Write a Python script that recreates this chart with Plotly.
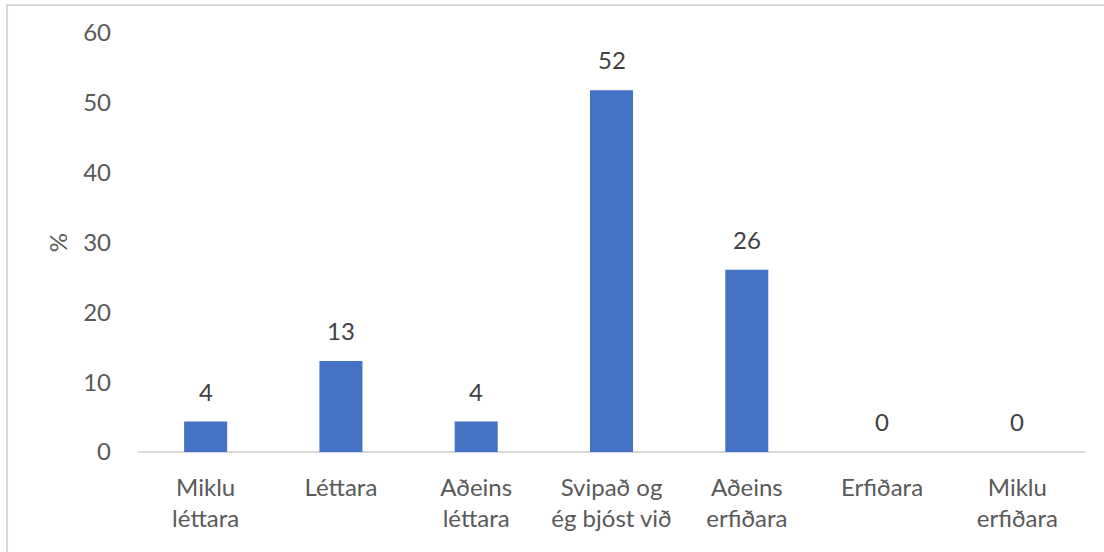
import plotly.graph_objects as go

categories = ["Miklu<br>léttara", "Léttara", "Aðeins<br>léttara", "Svipað og<br>ég bjóst við",
              "Aðeins<br>erfiðara", "Erfiðara", "Miklu<br>erfiðara"]
values = [4.35, 13.04, 4.35, 51.8, 26.09, 0, 0]
labels = ["4", "13", "4", "52", "26", "0", "0"]
y_ticks = [0, 10, 20, 30, 40, 50, 60]

FONT = "Lato"

fig = go.Figure()
fig.add_trace(go.Bar(x=categories, y=values, marker=dict(color="#4472C4", line=dict(width=0)),
                     hoverinfo="skip"))

for c, v, t in zip(categories, values, labels):
    fig.add_annotation(x=c, y=v, text=t, showarrow=False, yanchor="bottom", yshift=14,
                       font=dict(family=FONT, size=24, color="#404040"))

# chart-area border (left and top edges visible)
fig.add_shape(type="rect", xref="paper", yref="paper",
              x0=-0.1383, x1=1.05, y0=-0.35, y1=1.0668,
              line=dict(color="#d9d9d9", width=2), fillcolor="rgba(0,0,0,0)", layer="below")

fig.update_layout(
    width=1104, height=552,
    margin=dict(l=138, r=19, t=33, b=100),
    paper_bgcolor="white", plot_bgcolor="white",
    bargap=0.682,
    showlegend=False,
    font=dict(family=FONT, size=24, color="#595959"),
    xaxis=dict(showgrid=False, showline=False, zeroline=False, ticks="",
               ticklabelstandoff=19,
               tickfont=dict(family=FONT, size=24, color="#595959")),
    yaxis=dict(range=[0, 60], tickvals=y_ticks, showgrid=False, showline=False,
               zeroline=True, zerolinecolor="#d9d9d9", zerolinewidth=2,
               ticks="", ticklabelstandoff=26,
               tickfont=dict(family=FONT, size=24, color="#595959"),
               title=dict(text="%", font=dict(family=FONT, size=24, color="#595959"), standoff=8)),
)

fig.write_html("out.html", config={"displayModeBar": False},
               post_script="document.body.style.margin='0';")
